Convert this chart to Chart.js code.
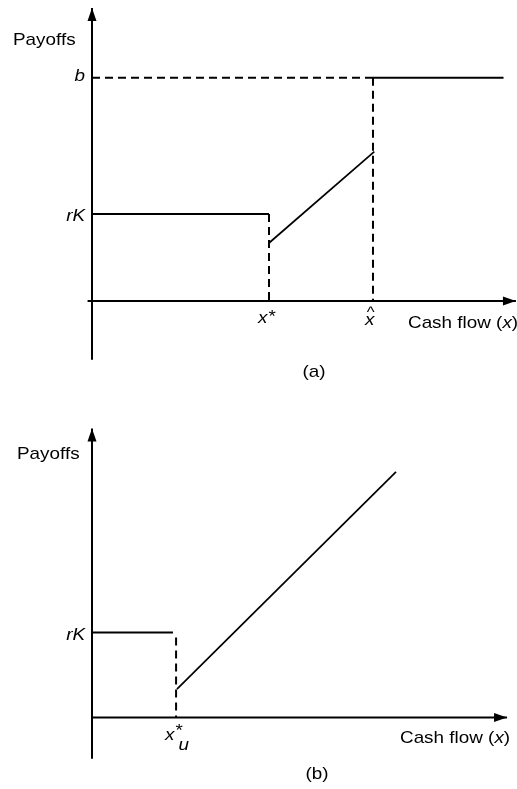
<!DOCTYPE html>
<html>
<head>
<meta charset="utf-8">
<script src="https://cdn.jsdelivr.net/npm/chart.js@4"></script>
<style>
  body { margin: 0; background: #fff; }
  canvas { display: block; }
</style>
</head>
<body>
<canvas id="chart-a" width="517" height="390"></canvas>
<canvas id="chart-b" width="517" height="399"></canvas>
<script>
// panel (a) values, in payoff / cash-flow units
const aFlat = [{ x: 0, y: 3 }, { x: 4, y: 3 }];
const aSlope = [{ x: 4, y: 2.0 }, { x: 6.38, y: 5.15 }];
const aTop = [{ x: 6.35, y: 7.7 }, { x: 9.3, y: 7.7 }];
const aGuideStar = [{ x: 4, y: 3 }, { x: 4, y: 0 }];
const aGuideHat = [{ x: 6.35, y: 7.7 }, { x: 6.35, y: 0 }];
const aGuideB = [{ x: 0, y: 7.7 }, { x: 6.35, y: 7.7 }];
const aXAxis = [{ x: -0.1, y: 0 }, { x: 9.58, y: 0 }];
const aYAxis = [{ x: 0, y: -2.03 }, { x: 0, y: 10.1 }];

// panel (b) values
const bFlat = [{ x: 0, y: 3 }, { x: 1.83, y: 3 }];
const bSlope = [{ x: 1.92, y: 1.0 }, { x: 6.87, y: 8.67 }];
const bGuideStar = [{ x: 1.9, y: 2.82 }, { x: 1.9, y: 0 }];
const bXAxis = [{ x: 0, y: 0 }, { x: 9.38, y: 0 }];
const bYAxis = [{ x: 0, y: -1.46 }, { x: 0, y: 10.2 }];

const STRETCH = 1.11;
const FONT = "17px 'Liberation Sans', Arial, sans-serif";
const IFONT = "italic 17px 'Liberation Sans', Arial, sans-serif";
const HFONT = "15px 'Liberation Sans', Arial, sans-serif";

function text(ctx, str, x, y, font, align) {
  ctx.save();
  ctx.font = font;
  ctx.fillStyle = "#000";
  ctx.textBaseline = "alphabetic";
  ctx.textAlign = align || "left";
  ctx.translate(x, y);
  ctx.scale(STRETCH, 1);
  ctx.fillText(str, 0, 0);
  const w = ctx.measureText(str).width * STRETCH;
  ctx.restore();
  return w;
}

function arrow(ctx, x, y, dir) {
  ctx.save();
  ctx.fillStyle = "#000";
  ctx.beginPath();
  if (dir == "up") {
    ctx.moveTo(x, y);
    ctx.lineTo(x - 4.5, y + 13);
    ctx.lineTo(x + 4.5, y + 13);
  } else {
    ctx.moveTo(x, y);
    ctx.lineTo(x - 13, y - 4.5);
    ctx.lineTo(x - 13, y + 4.5);
  }
  ctx.closePath();
  ctx.fill();
  ctx.restore();
}

function line(data, opts) {
  return Object.assign(
    {
      data: data,
      showLine: true,
      borderColor: "#000",
      borderWidth: 2,
      pointRadius: 0,
      fill: false,
      clip: false,
    },
    opts || {}
  );
}

// axes arrows and all labels, placed from the scales
const labelsPlugin = {
  id: "labels",
  afterDatasetsDraw(chart, args, o) {
    const ctx = chart.ctx;
    const sx = chart.scales.x;
    const sy = chart.scales.y;
    const x0 = sx.getPixelForValue(0);
    const y0 = sy.getPixelForValue(0);
    const xAx = o.xAxis[o.xAxis.length - 1];
    const yAx = o.yAxis[o.yAxis.length - 1];
    arrow(ctx, sx.getPixelForValue(xAx.x), y0, "right");
    arrow(ctx, x0, sy.getPixelForValue(yAx.y), "up");

    const top = sy.getPixelForValue(yAx.y);
    text(ctx, "Payoffs", x0 + o.payoffs[0], top + o.payoffs[1], FONT);

    o.yTicks.forEach((t) => {
      text(ctx, t.label, x0 - 7, sy.getPixelForValue(t.value) + t.dy, IFONT, "right");
    });

    o.xTicks.forEach((t) => {
      const px = sx.getPixelForValue(t.value);
      if (t.kind == "star") {
        const w = text(ctx, "x", px - 11, y0 + 22, IFONT);
        text(ctx, "*", px - 11 + w + 1, y0 + 21, FONT);
      } else if (t.kind == "hat") {
        const w = text(ctx, "x", px - 8, y0 + 24, IFONT);
        text(ctx, "^", px - 7 + w / 2, y0 + 16, HFONT, "center");
      } else if (t.kind == "staru") {
        const w = text(ctx, "x", px - 11, y0 + 22, IFONT);
        text(ctx, "*", px - 11 + w + 1, y0 + 18, FONT);
        text(ctx, "u", px - 11 + w + 4, y0 + 32, IFONT);
      }
    });

    let cx = o.cash[0];
    const cy = y0 + o.cash[1];
    cx += text(ctx, "Cash flow (", cx, cy, FONT);
    cx += text(ctx, "x", cx, cy, IFONT);
    text(ctx, ")", cx, cy, FONT);

    text(ctx, o.caption, o.captionPos[0], o.captionPos[1], FONT, "center");
  },
};

function makeChart(id, datasets, scales, labelOpts) {
  new Chart(document.getElementById(id), {
    type: "scatter",
    data: { datasets: datasets },
    options: {
      responsive: false,
      animation: false,
      events: [],
      layout: { padding: 0 },
      scales: {
        x: { type: "linear", display: false, min: scales[0], max: scales[1] },
        y: { type: "linear", display: false, min: scales[2], max: scales[3] },
      },
      plugins: {
        legend: { display: false },
        tooltip: { enabled: false },
        labels: labelOpts,
      },
    },
    plugins: [labelsPlugin],
  });
}

makeChart(
  "chart-a",
  [
    line(aXAxis),
    line(aYAxis),
    line(aGuideB, { borderDash: [8, 5] }),
    line(aGuideStar, { borderDash: [8, 5] }),
    line(aGuideHat, { borderDash: [8, 5] }),
    line(aFlat),
    line(aSlope, { borderWidth: 1.7 }),
    line(aTop),
  ],
  [-92 / 44.25, 425 / 44.25, -89 / 29, 301 / 29],
  {
    xAxis: aXAxis,
    yAxis: aYAxis,
    payoffs: [-79, 37],
    yTicks: [
      { label: "b", value: 7.7, dy: 3 },
      { label: "rK", value: 3, dy: 7 },
    ],
    xTicks: [
      { value: 4, kind: "star" },
      { value: 6.35, kind: "hat" },
    ],
    cash: [408, 27],
    caption: "(a)",
    captionPos: [314, 377],
  }
);

makeChart(
  "chart-b",
  [
    line(bXAxis),
    line(bYAxis),
    line(bGuideStar, { borderDash: [8, 5] }),
    line(bFlat),
    line(bSlope, { borderWidth: 1.7 }),
  ],
  [-92 / 44.25, 425 / 44.25, -71.5 / 28.33, 327.5 / 28.33],
  {
    xAxis: bXAxis,
    yAxis: bYAxis,
    payoffs: [-75, 30],
    yTicks: [{ label: "rK", value: 3, dy: 7 }],
    xTicks: [{ value: 1.9, kind: "staru" }],
    cash: [400, 25],
    caption: "(b)",
    captionPos: [317, 389],
  }
);
</script>
</body>
</html>
